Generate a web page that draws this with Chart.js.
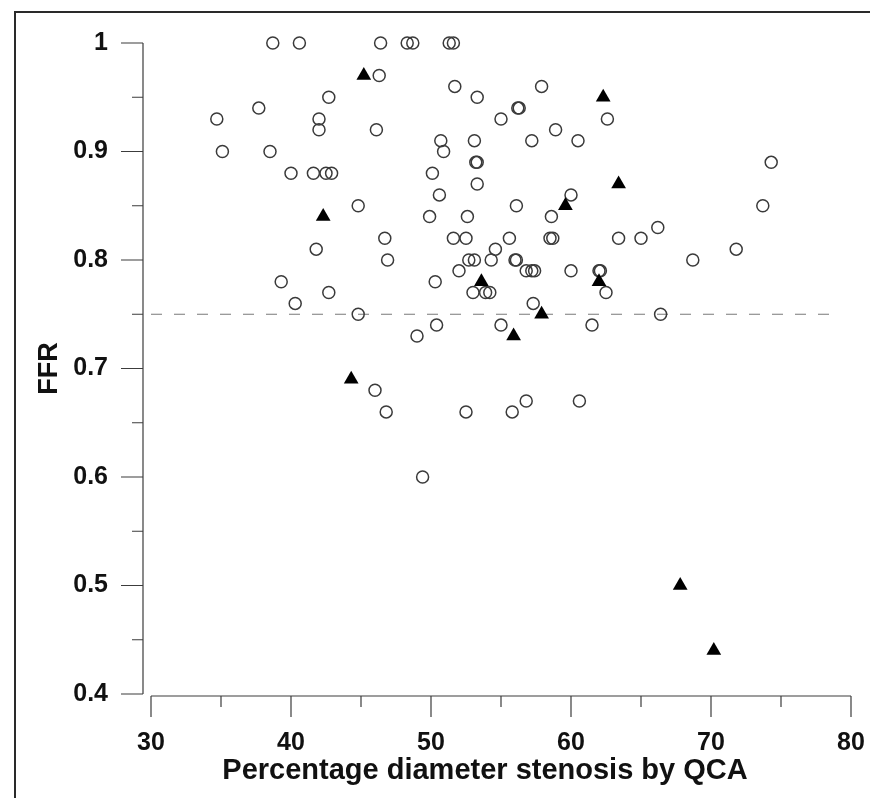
<!DOCTYPE html>
<html>
<head>
<meta charset="utf-8">
<title>FFR vs percentage diameter stenosis</title>
<script src="https://cdn.jsdelivr.net/npm/chart.js@4.4.0/dist/chart.umd.min.js"></script>
<style>
  html, body { margin: 0; padding: 0; background: #fff; }
  .frame { position: relative; width: 870px; height: 798px; overflow: hidden; }
  .frame::before {
    content: ''; position: absolute; left: 14px; top: 11px; right: -10px; bottom: -10px;
    border-top: 2px solid #2a2a2a; border-left: 2px solid #2a2a2a;
  }
  canvas { position: absolute; left: 0; top: 0; }
</style>
</head>
<body>
<div class="frame"><canvas id="chart" width="870" height="798"></canvas></div>
<script>
// open circles
const stenosisOpen = [
  38.7, 40.6, 46.4, 48.3, 48.7, 51.3, 51.6, 46.3, 51.7, 57.9,
  42.7, 53.3, 37.7, 56.3, 56.2, 34.7, 42.0, 55.0, 62.6, 42.0,
  46.1, 58.9, 50.7, 53.1, 57.2, 60.5, 35.1, 38.5, 50.9, 53.3,
  53.2, 74.3, 40.0, 41.6, 42.5, 42.9, 50.1, 53.3, 50.6, 60.0,
  44.8, 56.1, 73.7, 49.9, 52.6, 58.6, 66.2, 46.7, 51.6, 52.5,
  55.6, 58.5, 58.7, 63.4, 65.0, 41.8, 54.6, 71.8, 46.9, 52.7,
  53.1, 54.3, 56.0, 56.1, 68.7, 52.0, 56.8, 57.2, 57.4, 60.0,
  62.0, 62.1, 39.3, 50.3, 42.7, 53.0, 53.9, 54.2, 62.5, 40.3,
  57.3, 44.8, 66.4, 50.4, 55.0, 61.5, 49.0, 46.0, 56.8, 60.6,
  46.8, 52.5, 55.8, 49.4
];
const ffrOpen = [
  1.00, 1.00, 1.00, 1.00, 1.00, 1.00, 1.00, 0.97, 0.96, 0.96,
  0.95, 0.95, 0.94, 0.94, 0.94, 0.93, 0.93, 0.93, 0.93, 0.92,
  0.92, 0.92, 0.91, 0.91, 0.91, 0.91, 0.90, 0.90, 0.90, 0.89,
  0.89, 0.89, 0.88, 0.88, 0.88, 0.88, 0.88, 0.87, 0.86, 0.86,
  0.85, 0.85, 0.85, 0.84, 0.84, 0.84, 0.83, 0.82, 0.82, 0.82,
  0.82, 0.82, 0.82, 0.82, 0.82, 0.81, 0.81, 0.81, 0.80, 0.80,
  0.80, 0.80, 0.80, 0.80, 0.80, 0.79, 0.79, 0.79, 0.79, 0.79,
  0.79, 0.79, 0.78, 0.78, 0.77, 0.77, 0.77, 0.77, 0.77, 0.76,
  0.76, 0.75, 0.75, 0.74, 0.74, 0.74, 0.73, 0.68, 0.67, 0.67,
  0.66, 0.66, 0.66, 0.60
];
// filled triangles
const stenosisFilled = [45.2, 62.3, 63.4, 59.6, 42.3, 53.6, 62.0, 57.9, 55.9, 44.3, 67.8, 70.2];
const ffrFilled = [0.97, 0.95, 0.87, 0.85, 0.84, 0.78, 0.78, 0.75, 0.73, 0.69, 0.50, 0.44];
// FFR 0.75 cut-off
const cutoffX = [30, 79.1];
const cutoffFFR = [0.75, 0.75];

const xTicks = [30, 40, 50, 60, 70, 80];
const xTickLabels = ['30', '40', '50', '60', '70', '80'];
const xMinorTicks = [35, 45, 55, 65, 75];
const yTicks = [0.4, 0.5, 0.6, 0.7, 0.8, 0.9, 1.0];
const yTickLabels = ['0.4', '0.5', '0.6', '0.7', '0.8', '0.9', '1'];
const yMinorTicks = [0.45, 0.55, 0.65, 0.75, 0.85, 0.95];
const xTitle = 'Percentage diameter stenosis by QCA';

const zip = (xs, ys) => xs.map((x, i) => ({ x, y: ys[i] }));
const FONT = "'Liberation Sans', Arial, Helvetica, sans-serif";

// keep the plot box fixed, no label overflow padding
const noOverflow = (scale) => {
  scale.paddingLeft = 0;
  scale.paddingRight = 0;
  scale.paddingTop = 0;
  scale.paddingBottom = 0;
};

// axis lines drawn SigmaPlot style: y axis set off to the left, ticks outside
const axisFrame = {
  id: 'axisFrame',
  afterDraw(chart) {
    const { ctx, scales: { x, y } } = chart;
    const yAxisX = x.getPixelForValue(30) - 8;
    const xAxisY = y.getPixelForValue(0.4) + 2;
    ctx.save();
    ctx.strokeStyle = '#3c3c3c';
    ctx.lineWidth = 1.2;
    ctx.beginPath();
    ctx.moveTo(yAxisX, y.getPixelForValue(1));
    ctx.lineTo(yAxisX, y.getPixelForValue(0.4));
    yTicks.forEach(v => {
      const py = y.getPixelForValue(v);
      ctx.moveTo(yAxisX - 22, py);
      ctx.lineTo(yAxisX, py);
    });
    yMinorTicks.forEach(v => {
      const py = y.getPixelForValue(v);
      ctx.moveTo(yAxisX - 11, py);
      ctx.lineTo(yAxisX, py);
    });
    ctx.moveTo(x.getPixelForValue(30), xAxisY);
    ctx.lineTo(x.getPixelForValue(80), xAxisY);
    xTicks.forEach(v => {
      const px = x.getPixelForValue(v);
      ctx.moveTo(px, xAxisY);
      ctx.lineTo(px, xAxisY + 21);
    });
    xMinorTicks.forEach(v => {
      const px = x.getPixelForValue(v);
      ctx.moveTo(px, xAxisY);
      ctx.lineTo(px, xAxisY + 11);
    });
    ctx.stroke();

    // x title sits a little left of the axis centre in the original
    ctx.fillStyle = '#111';
    ctx.font = 'bold 29px ' + FONT;
    ctx.textAlign = 'center';
    ctx.textBaseline = 'middle';
    ctx.fillText(xTitle, (x.left + x.right) / 2 - 16, 771);
    ctx.restore();
  }
};

new Chart(document.getElementById('chart'), {
  type: 'scatter',
  data: {
    datasets: [
      {
        label: 'cut-off',
        type: 'line',
        data: zip(cutoffX, cutoffFFR),
        borderColor: '#7a7a7a',
        borderWidth: 1.2,
        borderDash: [11, 12],
        pointRadius: 0,
        fill: false,
        order: 3
      },
      {
        label: 'open',
        data: zip(stenosisOpen, ffrOpen),
        pointStyle: 'circle',
        pointRadius: 6,
        borderWidth: 1.5,
        borderColor: '#3a3a3a',
        backgroundColor: 'rgba(255,255,255,0)',
        order: 2
      },
      {
        label: 'filled',
        data: zip(stenosisFilled, ffrFilled),
        pointStyle: 'triangle',
        pointRadius: 8.5,
        borderWidth: 0,
        borderColor: '#000',
        backgroundColor: '#000',
        order: 1
      }
    ]
  },
  options: {
    responsive: false,
    animation: false,
    clip: false,
    layout: { autoPadding: false, padding: { left: 33, top: 43, right: 19, bottom: 0 } },
    plugins: {
      legend: { display: false },
      tooltip: { enabled: false }
    },
    scales: {
      x: {
        type: 'linear',
        min: 30,
        max: 80,
        afterFit: (scale) => { scale.height = 104; noOverflow(scale); },
        afterBuildTicks: (scale) => { scale.ticks = xTicks.map(v => ({ value: v })); },
        grid: { display: false, drawTicks: false },
        border: { display: false },
        ticks: {
          padding: 34,
          maxRotation: 0,
          color: '#111',
          font: { family: FONT, size: 25, weight: 'bold' },
          callback: (v) => xTickLabels[xTicks.indexOf(v)]
        },
        title: { display: false }
      },
      y: {
        type: 'linear',
        min: 0.4,
        max: 1,
        afterFit: (scale) => { scale.width = 118; noOverflow(scale); },
        afterBuildTicks: (scale) => { scale.ticks = yTicks.map(v => ({ value: v })); },
        grid: { display: false, drawTicks: false },
        border: { display: false },
        ticks: {
          padding: 43,
          color: '#111',
          font: { family: FONT, size: 25, weight: 'bold' },
          callback: (v) => yTickLabels[yTicks.findIndex(t => Math.abs(t - v) < 1e-6)]
        },
        title: {
          display: true,
          text: 'FFR',
          color: '#111',
          font: { family: FONT, size: 27, weight: 'bold' },
          padding: { top: 0, bottom: 0 }
        }
      }
    }
  },
  plugins: [axisFrame]
});
</script>
</body>
</html>
